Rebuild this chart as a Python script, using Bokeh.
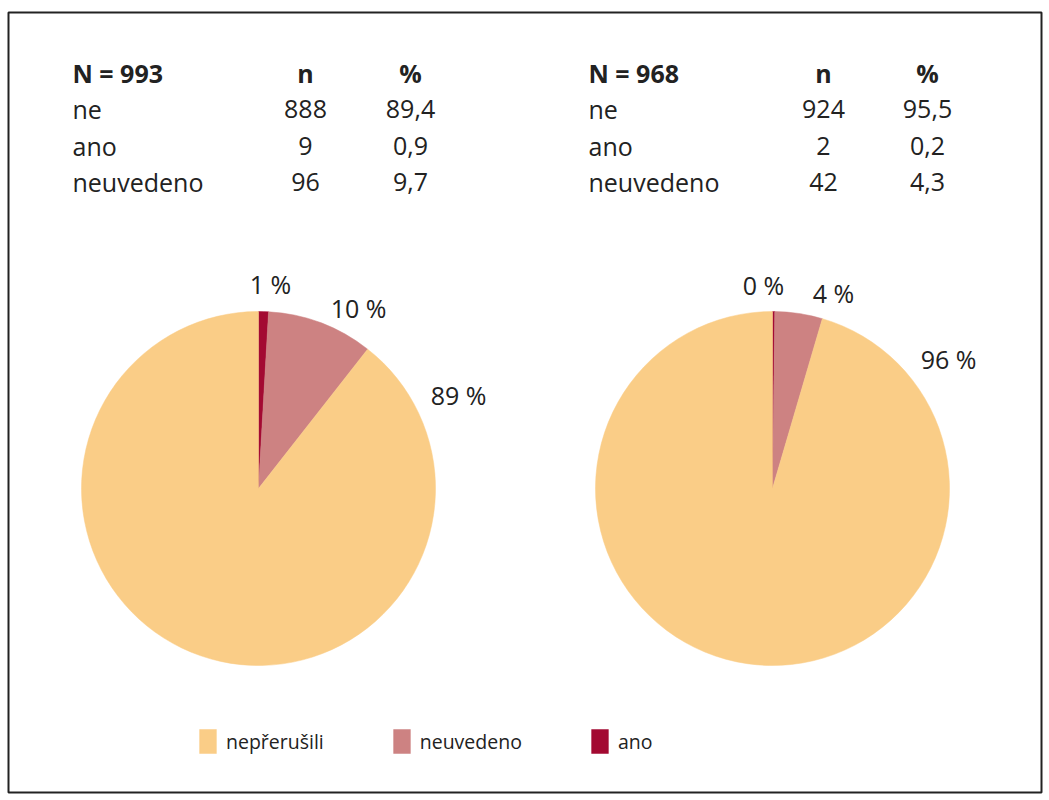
import numpy as np
from bokeh.plotting import figure
from bokeh.models import Range1d, ColumnDataSource, Legend, LegendItem
from bokeh.core.properties import value
from bokeh.embed import file_html
from bokeh.resources import INLINE

# --- data -------------------------------------------------------------
row_labels = ["ne", "ano", "neuvedeno"]
legend_labels = ["nepřerušili", "neuvedeno", "ano"]

N_left = 993
n_left = [888, 9, 96]
pct_left = [89.4, 0.9, 9.7]

N_right = 968
n_right = [924, 2, 42]
pct_right = [95.5, 0.2, 4.3]

# colours per row label (ne, ano, neuvedeno)
row_colors = ["#FACD87", "#A30A32", "#CD8282"]
# order of slices clockwise from 12 o'clock (indices into row_labels)
slice_order = [1, 2, 0]

# --- layout (page pixels of the reference) ------------------------------
W, H = 1044, 796
OFF = 0
FONT = value("Open Sans")
INK = "#222222"


def fx(px):
    return px - OFF


def fy(py):
    return H - (py - OFF)


pies = [
    dict(n=n_left, pct=pct_left, N=N_left, cx=258, cy=488, r=177,
         lab_pos=[(270, 283), (358, 307), (458, 394)],
         col_x=(72, 305, 410)),
    dict(n=n_right, pct=pct_right, N=N_right, cx=772, cy=488, r=177,
         lab_pos=[(763, 284), (833, 292), (948, 358)],
         col_x=(588, 823, 927)),
]
row_y = [72, 108, 145, 181]

p = figure(width=W, height=H,
           x_range=Range1d(0, W), y_range=Range1d(0, H),
           x_axis_type=None, y_axis_type=None,
           toolbar_location=None, output_backend="svg",
           min_border=0, outline_line_color=None)
p.grid.visible = False
p.background_fill_color = "white"

# frame around the whole chart
p.quad(left=[fx(8)], right=[fx(1041)], top=[fy(12)], bottom=[fy(792)],
       fill_color=None, line_color=INK, line_width=2)

wedge_renderers = []
for d in pies:
    vals = np.array([d["n"][i] for i in slice_order], dtype=float)
    frac = vals / vals.sum()
    cum = np.concatenate([[0.0], np.cumsum(frac)])
    start = np.pi / 2 - cum[:-1] * 2 * np.pi
    end = np.pi / 2 - cum[1:] * 2 * np.pi
    src = ColumnDataSource(dict(
        x=[fx(d["cx"])] * len(vals),
        y=[fy(d["cy"])] * len(vals),
        start=start, end=end,
        color=[row_colors[i] for i in slice_order],
    ))
    r = p.wedge(x="x", y="y", radius=d["r"], start_angle="start",
                end_angle="end", direction="clock", source=src,
                fill_color="color", line_color="color", line_width=0.5)
    wedge_renderers.append(r)

    # slice labels
    labs = ["%d %%" % int(d["pct"][i] + 0.5) for i in slice_order]
    pos = [d["lab_pos"][k] for k in range(len(slice_order))]
    p.text(x=[fx(a) for a, b in pos], y=[fy(b) for a, b in pos], text=labs,
           text_align="center", text_baseline="middle", text_font=FONT,
           text_font_size="25px", text_color=INK)

    # table above the pie
    c0, c1, c2 = d["col_x"]
    p.text(x=[fx(c0)], y=[fy(row_y[0])], text=["N = %d" % d["N"]],
           text_align="left", text_baseline="middle", text_font=FONT,
           text_font_size="25px", text_font_style="bold", text_color=INK)
    p.text(x=[fx(c1), fx(c2)], y=[fy(row_y[0])] * 2, text=["n", "%"],
           text_align="center", text_baseline="middle", text_font=FONT,
           text_font_size="25px", text_font_style="bold", text_color=INK)
    ys = [fy(y) for y in row_y[1:]]
    p.text(x=[fx(c0)] * 3, y=ys, text=row_labels,
           text_align="left", text_baseline="middle", text_font=FONT,
           text_font_size="25px", text_color=INK)
    p.text(x=[fx(c1)] * 3, y=ys, text=[str(v) for v in d["n"]],
           text_align="center", text_baseline="middle", text_font=FONT,
           text_font_size="25px", text_color=INK)
    p.text(x=[fx(c2)] * 3, y=ys,
           text=[("%.1f" % v).replace(".", ",") for v in d["pct"]],
           text_align="center", text_baseline="middle", text_font=FONT,
           text_font_size="25px", text_color=INK)

# legend: nepřerušili, neuvedeno, ano -> slice indices in the left pie
legend_index = [slice_order.index(0), slice_order.index(2), slice_order.index(1)]
items = [LegendItem(label=lab, renderers=[wedge_renderers[0]], index=i)
         for lab, i in zip(legend_labels, legend_index)]
legend = Legend(items=items, orientation="horizontal",
                location=(fx(197), fy(756)),
                padding=0, margin=0, spacing=67,
                glyph_width=21, glyph_height=30, label_height=30,
                label_standoff=8,
                label_text_font="Open Sans", label_text_font_size="19.5px",
                label_text_color=INK,
                border_line_color=None, background_fill_alpha=0)
p.add_layout(legend)

open("out.html", "w").write(file_html(p, INLINE))
